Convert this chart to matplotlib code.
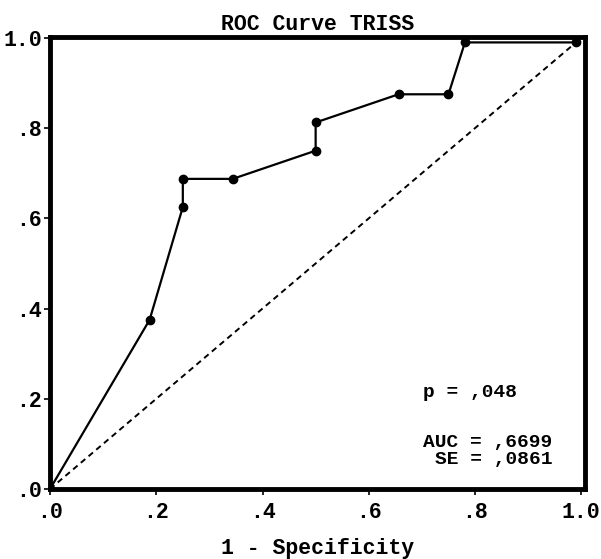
import matplotlib
matplotlib.use("Agg")
import matplotlib.pyplot as plt

# ROC points (1 - specificity, sensitivity)
fpr = [0.0, 0.1875, 0.25, 0.25, 0.344, 0.5, 0.5, 0.656, 0.75, 0.781, 0.99]
tpr = [0.0, 0.375, 0.625, 0.6875, 0.6875, 0.75, 0.8125, 0.875, 0.875, 0.99, 0.99]
ref_line = [0.0, 0.99]

tick_vals = [0.0, 0.2, 0.4, 0.6, 0.8, 1.0]
tick_labels = [".0", ".2", ".4", ".6", ".8", "1.0"]

p_text = "p = ,048"
auc_text = "AUC = ,6699"
se_text = "SE = ,0861"

plt.rcParams['font.family'] = ['Liberation Mono', 'DejaVu Sans Mono']
plt.rcParams['font.weight'] = 'bold'
plt.rcParams['axes.labelweight'] = 'bold'
plt.rcParams['axes.titleweight'] = 'bold'

fig = plt.figure(figsize=(6.01, 5.59), dpi=100)
ax = fig.add_axes([50 / 601, 70 / 559, 535 / 601, 452 / 559])

# reference diagonal
ax.plot(ref_line, ref_line, c='black', linestyle=(0, (3, 2.2)), linewidth=1.4, zorder=2)

# ROC curve
ax.plot(fpr, tpr, c='black', linewidth=1.6, marker='o', markersize=6, zorder=3)

ax.set_xlim(0, 1.007)
ax.set_ylim(0, 1.002)

for s in ax.spines.values():
    s.set_linewidth(3.5)

ax.set_xticks(tick_vals)
ax.set_xticklabels(tick_labels, fontsize=15.5)
ax.set_yticks(tick_vals)
ax.set_yticklabels(tick_labels, fontsize=15.5)
ax.tick_params(axis='x', direction='out', length=4, width=1.2, pad=5)
ax.tick_params(axis='y', direction='out', length=4, width=1.2, pad=2)

ax.set_title("ROC Curve TRISS", fontsize=15.5, pad=5)
ax.set_xlabel("1 - Specificity", fontsize=15.5, labelpad=11)

ax.text(0.702, 0.213, p_text, fontsize=14, ha='left', va='center')
ax.text(0.945, 0.104, auc_text, fontsize=14, ha='right', va='center')
ax.text(0.945, 0.066, se_text, fontsize=14, ha='right', va='center')

fig.savefig("out.png", dpi=100)
